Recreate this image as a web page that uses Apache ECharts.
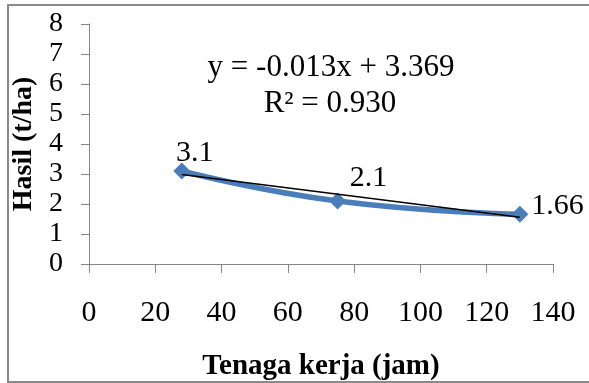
<!DOCTYPE html>
<html><head><meta charset="utf-8">
<script src="https://cdn.jsdelivr.net/npm/echarts@6/dist/echarts.min.js"></script>
<style>html,body{margin:0;padding:0;background:#fff}#c{width:589px;height:383px}</style>
</head><body><div id="c"></div>
<script>
const laborHours = [28, 75, 130];
const yieldValues = [3.1, 2.1, 1.66];
const trendX = [28, 130];
const trendY = [2.98, 1.56];
const xTicks = [0, 20, 40, 60, 80, 100, 120, 140];
const yTicks = [0, 1, 2, 3, 4, 5, 6, 7, 8];
const equationText = 'y = -0.013x + 3.369';
const r2Text = 'R² = 0.930';
const xTitle = 'Tenaga kerja (jam)';
const yTitle = 'Hasil (t/ha)';

const serif = '"Liberation Serif", "Times New Roman", serif';
const labelOffsets = [
  {position: 'top', offset: [13, 11]},
  {position: 'top', offset: [31, 6]},
  {position: 'right', offset: [-2, -8]}
];
const chart = echarts.init(document.getElementById('c'), null, {renderer: 'canvas'});
chart.setOption({
  animation: false,
  backgroundColor: '#fff',
  grid: {left: 89, right: 36, top: 24, bottom: 119, containLabel: false, outerBoundsMode: 'none'},
  xAxis: {
    type: 'value', min: xTicks[0], max: xTicks[xTicks.length - 1], interval: 20,
    name: xTitle, nameLocation: 'middle', nameGap: 88,
    nameTextStyle: {fontFamily: serif, fontWeight: 'bold', fontSize: 29, color: '#000'},
    axisLine: {show: true, onZero: false, lineStyle: {color: '#868686', width: 1}},
    axisTick: {show: true, length: 9, lineStyle: {color: '#868686'}},
    axisLabel: {fontFamily: serif, fontSize: 30, color: '#000', margin: 34},
    splitLine: {show: false}
  },
  yAxis: {
    type: 'value', min: yTicks[0], max: yTicks[yTicks.length - 1], interval: 1,
    name: yTitle, nameLocation: 'middle', nameGap: 43, nameRotate: 90,
    nameTextStyle: {fontFamily: serif, fontWeight: 'bold', fontSize: 28, color: '#000'},
    axisLine: {show: true, lineStyle: {color: '#868686', width: 1}},
    axisTick: {show: true, length: 8, lineStyle: {color: '#868686'}},
    axisLabel: {fontFamily: serif, fontSize: 28, color: '#000', margin: 26},
    splitLine: {show: false}
  },
  graphic: [
    {type: 'rect', shape: {x: 8, y: 5, width: 600, height: 377}, style: {fill: 'none', stroke: '#8a8a8a', lineWidth: 2}, silent: true, z: -1},
    {type: 'text', x: 331, y: 68, style: {text: equationText, font: '31px ' + serif, fill: '#000', textAlign: 'center', textVerticalAlign: 'middle'}},
    {type: 'text', x: 330, y: 104, style: {text: r2Text, font: '31px ' + serif, fill: '#000', textAlign: 'center', textVerticalAlign: 'middle'}}
  ],
  series: [
    {
      type: 'line', smooth: 0.5,
      data: laborHours.map((x, i) => ({
        value: [x, yieldValues[i]],
        label: Object.assign({show: true, formatter: String(yieldValues[i])}, labelOffsets[i])
      })),
      symbol: 'diamond', symbolSize: 17,
      lineStyle: {color: '#4a7ebb', width: 5.5},
      itemStyle: {color: '#4a7ebb'},
      label: {fontFamily: serif, fontSize: 30, color: '#000'},
      z: 2
    },
    {
      type: 'line', data: trendX.map((x, i) => [x, trendY[i]]),
      symbol: 'none', lineStyle: {color: '#000', width: 1.5}, z: 3
    }
  ]
});
</script></body></html>
